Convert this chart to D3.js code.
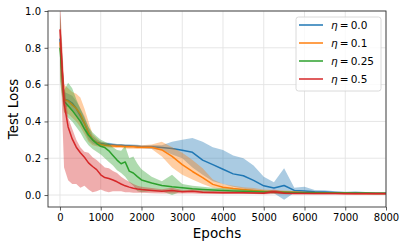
<!DOCTYPE html>
<html>
<head>
<meta charset="utf-8">
<script src="https://d3js.org/d3.v7.min.js"></script>
<style>
  body { margin: 0; background: #fff; }
  .chart text { font-family: "DejaVu Sans", sans-serif; fill: #000; }
</style>
</head>
<body>
<div class="chart"></div>
<script>
// epochs where the runs were logged
var epochs = [0, 100, 200, 300, 400, 500, 600, 700, 800, 900, 1000, 1100, 1200, 1300, 1400, 1500,
  1600, 1700, 1800, 1900, 2000, 2250, 2500, 2750, 3000, 3250, 3500, 3750, 4000, 4250, 4500, 4750,
  5000, 5250, 5500, 5750, 6000, 6250, 6500, 6750, 7000, 7250, 7500, 7750, 8000];

// eta = 0.0
var blueMean = [0.85, 0.52, 0.515, 0.50, 0.47, 0.43, 0.39, 0.335, 0.30, 0.285, 0.28, 0.277, 0.276, 0.273, 0.27, 0.27,
  0.268, 0.268, 0.267, 0.265, 0.263, 0.262, 0.258, 0.253, 0.243, 0.232, 0.19, 0.165, 0.14, 0.115, 0.105, 0.08,
  0.05, 0.038, 0.052, 0.025, 0.022, 0.018, 0.016, 0.014, 0.012, 0.012, 0.011, 0.01, 0.01];
var blueLo = [0.70, 0.48, 0.48, 0.46, 0.43, 0.39, 0.35, 0.30, 0.28, 0.27, 0.27, 0.269, 0.268, 0.265, 0.262, 0.262,
  0.26, 0.26, 0.259, 0.257, 0.255, 0.25, 0.245, 0.22, 0.20, 0.15, 0.11, 0.075, 0.06, 0.045, 0.035, 0.02,
  0.01, 0.01, -0.025, 0.012, 0.01, 0.008, 0.008, 0.006, 0.006, 0.006, 0.005, 0.005, 0.005];
var blueHi = [1.0, 0.56, 0.55, 0.54, 0.51, 0.47, 0.43, 0.37, 0.32, 0.30, 0.29, 0.285, 0.284, 0.281, 0.278, 0.278,
  0.276, 0.276, 0.275, 0.273, 0.271, 0.272, 0.27, 0.29, 0.30, 0.31, 0.29, 0.26, 0.245, 0.215, 0.20, 0.16,
  0.10, 0.07, 0.145, 0.04, 0.045, 0.028, 0.026, 0.02, 0.018, 0.02, 0.017, 0.015, 0.015];

// eta = 0.1
var orangeMean = [0.83, 0.52, 0.51, 0.49, 0.47, 0.44, 0.39, 0.34, 0.30, 0.285, 0.275, 0.27, 0.268, 0.267, 0.265, 0.265,
  0.263, 0.262, 0.262, 0.26, 0.26, 0.26, 0.245, 0.21, 0.165, 0.128, 0.095, 0.058, 0.042, 0.035, 0.03, 0.025,
  0.02, 0.018, 0.016, 0.015, 0.013, 0.012, 0.011, 0.01, 0.01, 0.009, 0.009, 0.008, 0.008];
var orangeLo = [0.65, 0.45, 0.44, 0.42, 0.40, 0.37, 0.33, 0.29, 0.27, 0.265, 0.26, 0.26, 0.258, 0.257, 0.255, 0.255,
  0.253, 0.252, 0.252, 0.25, 0.25, 0.25, 0.21, 0.15, 0.11, 0.085, 0.06, 0.04, 0.03, 0.025, 0.02, 0.015,
  0.012, 0.01, 0.01, 0.008, 0.007, 0.006, 0.006, 0.005, 0.005, 0.005, 0.005, 0.005, 0.005];
var orangeHi = [1.0, 0.60, 0.58, 0.56, 0.55, 0.53, 0.47, 0.40, 0.33, 0.31, 0.29, 0.285, 0.278, 0.277, 0.275, 0.275,
  0.273, 0.272, 0.272, 0.27, 0.27, 0.275, 0.29, 0.26, 0.23, 0.19, 0.145, 0.085, 0.06, 0.05, 0.042, 0.038,
  0.03, 0.028, 0.025, 0.022, 0.019, 0.018, 0.017, 0.016, 0.016, 0.015, 0.015, 0.014, 0.014];

// eta = 0.25
var greenMean = [0.80, 0.51, 0.485, 0.46, 0.43, 0.40, 0.36, 0.325, 0.30, 0.28, 0.265, 0.258, 0.24, 0.215, 0.19, 0.17,
  0.18, 0.13, 0.12, 0.10, 0.082, 0.065, 0.052, 0.045, 0.04, 0.034, 0.03, 0.027, 0.025, 0.022, 0.02, 0.018,
  0.016, 0.015, 0.014, 0.013, 0.012, 0.012, 0.011, 0.011, 0.01, 0.01, 0.01, 0.009, 0.009];
var greenLo = [0.62, 0.45, 0.42, 0.40, 0.37, 0.34, 0.30, 0.27, 0.25, 0.235, 0.22, 0.20, 0.18, 0.16, 0.135, 0.12,
  0.10, 0.07, 0.05, 0.02, 0.015, 0.02, 0.02, 0.0, 0.02, 0.02, 0.015, 0.014, 0.013, 0.012, 0.01, 0.009,
  0.008, 0.008, 0.007, 0.007, 0.006, 0.006, 0.006, 0.006, 0.005, 0.005, 0.005, 0.005, 0.005];
var greenHi = [0.98, 0.57, 0.61, 0.58, 0.52, 0.47, 0.42, 0.37, 0.34, 0.32, 0.30, 0.29, 0.28, 0.26, 0.245, 0.24,
  0.265, 0.20, 0.21, 0.17, 0.14, 0.10, 0.075, 0.11, 0.06, 0.05, 0.045, 0.04, 0.037, 0.033, 0.03, 0.028,
  0.025, 0.023, 0.022, 0.02, 0.019, 0.018, 0.017, 0.016, 0.016, 0.015, 0.015, 0.014, 0.014];

// eta = 0.5
var redMean = [0.90, 0.50, 0.37, 0.305, 0.26, 0.23, 0.205, 0.175, 0.155, 0.138, 0.11, 0.095, 0.09, 0.082, 0.072, 0.06,
  0.05, 0.043, 0.037, 0.033, 0.03, 0.025, 0.02, 0.025, 0.018, 0.02, 0.015, 0.014, 0.013, 0.012, 0.012, 0.011,
  0.01, 0.018, 0.01, 0.009, 0.009, 0.008, 0.008, 0.008, 0.007, 0.007, 0.007, 0.007, 0.007];
var redLo = [0.78, 0.15, 0.08, 0.06, 0.06, 0.04, 0.05, 0.03, 0.015, 0.02, 0.03, 0.02, 0.015, 0.02, 0.02, 0.02,
  0.015, 0.015, 0.012, 0.012, 0.012, 0.01, 0.008, 0.008, 0.008, 0.008, 0.006, 0.006, 0.006, 0.005, 0.005, 0.005,
  0.004, 0.006, 0.004, 0.004, 0.004, 0.003, 0.003, 0.003, 0.003, 0.003, 0.003, 0.003, 0.003];
var redHi = [1.05, 0.62, 0.42, 0.36, 0.30, 0.26, 0.235, 0.23, 0.205, 0.19, 0.17, 0.15, 0.145, 0.13, 0.12, 0.10,
  0.085, 0.072, 0.06, 0.05, 0.045, 0.038, 0.032, 0.04, 0.028, 0.03, 0.024, 0.022, 0.02, 0.019, 0.018, 0.017,
  0.016, 0.03, 0.016, 0.014, 0.014, 0.013, 0.013, 0.013, 0.012, 0.012, 0.012, 0.012, 0.012];

var etaLabels = ['0.0', '0.1', '0.25', '0.5'];
var xTicks = [0, 1000, 2000, 3000, 4000, 5000, 6000, 7000, 8000];
var yTicks = [0.0, 0.2, 0.4, 0.6, 0.8, 1.0];

var series = [
  { name: etaLabels[0], color: '#1f77b4', mean: blueMean, lo: blueLo, hi: blueHi },
  { name: etaLabels[1], color: '#ff7f0e', mean: orangeMean, lo: orangeLo, hi: orangeHi },
  { name: etaLabels[2], color: '#2ca02c', mean: greenMean, lo: greenLo, hi: greenHi },
  { name: etaLabels[3], color: '#d62728', mean: redMean, lo: redLo, hi: redHi }
];

// set up chart size
var svgWidth = 407;
var svgHeight = 250;

var margin = { top: 11, bottom: 43, right: 21, left: 48 };
var width = svgWidth - margin.left - margin.right;
var height = svgHeight - margin.top - margin.bottom;

var svg = d3.select('.chart')
  .append('svg')
  .attr('width', svgWidth)
  .attr('height', svgHeight);

var chart = svg.append('g')
  .attr('transform', `translate(${margin.left}, ${margin.top})`);

// scales
var x = d3.scaleLinear().domain([-294, 8000]).range([0, width]);
var y = d3.scaleLinear().domain([-0.065, 1.0]).range([height, 0]);

// grid
chart.append('g')
  .selectAll('line')
  .data(xTicks)
  .enter()
  .append('line')
  .attr('x1', function(d) { return x(d); })
  .attr('x2', function(d) { return x(d); })
  .attr('y1', 0)
  .attr('y2', height)
  .attr('stroke', '#e3e3e3')
  .attr('stroke-width', 0.9);

chart.append('g')
  .selectAll('line')
  .data(yTicks)
  .enter()
  .append('line')
  .attr('x1', 0)
  .attr('x2', width)
  .attr('y1', function(d) { return y(d); })
  .attr('y2', function(d) { return y(d); })
  .attr('stroke', '#e3e3e3')
  .attr('stroke-width', 0.9);

// clip the bands to the plot area
svg.append('defs')
  .append('clipPath')
  .attr('id', 'plot-clip')
  .append('rect')
  .attr('width', width)
  .attr('height', height);

var plot = chart.append('g').attr('clip-path', 'url(#plot-clip)');

var band = d3.area()
  .x(function(d) { return x(d.e); })
  .y0(function(d) { return y(d.lo); })
  .y1(function(d) { return y(d.hi); });

var line = d3.line()
  .x(function(d) { return x(d.e); })
  .y(function(d) { return y(d.v); });

series.forEach(function(s) {
  var pts = epochs.map(function(e, i) {
    return { e: e, v: s.mean[i], lo: s.lo[i], hi: s.hi[i] };
  });

  plot.append('path')
    .datum(pts)
    .attr('d', band)
    .attr('fill', s.color)
    .attr('fill-opacity', 0.38)
    .attr('stroke', 'none');

  plot.append('path')
    .datum(pts)
    .attr('d', line)
    .attr('fill', 'none')
    .attr('stroke', s.color)
    .attr('stroke-width', 1.5)
    .attr('stroke-linejoin', 'round');
});

// axes
var bottomAxis = d3.axisBottom(x).tickValues(xTicks).tickSize(3.5).tickPadding(3.5).tickFormat(d3.format('d'));
var leftAxis = d3.axisLeft(y).tickValues(yTicks).tickSize(3.5).tickPadding(3.5).tickFormat(d3.format('.1f'));

var xAxisG = chart.append('g')
  .attr('transform', `translate(0, ${height})`)
  .call(bottomAxis);

var yAxisG = chart.append('g').call(leftAxis);

[xAxisG, yAxisG].forEach(function(g) {
  g.select('.domain').remove();
  g.selectAll('.tick line').attr('stroke', '#333').attr('stroke-width', 0.8);
  g.selectAll('.tick text')
    .attr('font-family', 'DejaVu Sans, sans-serif')
    .attr('font-size', 10)
    .attr('fill', '#000');
});

// frame
chart.append('rect')
  .attr('width', width)
  .attr('height', height)
  .attr('fill', 'none')
  .attr('stroke', '#333')
  .attr('stroke-width', 0.9);

// axis labels
chart.append('text')
  .attr('transform', 'rotate(-90)')
  .attr('x', 0 - height / 2)
  .attr('y', 0 - margin.left + 18)
  .style('text-anchor', 'middle')
  .style('font-size', '13.5px')
  .text('Test Loss');

chart.append('text')
  .attr('x', width / 2)
  .attr('y', height + 31)
  .style('text-anchor', 'middle')
  .style('font-size', '13.5px')
  .text('Epochs');

// legend
var legend = chart.append('g')
  .attr('transform', `translate(${width - 90}, 6)`);

legend.append('rect')
  .attr('width', 85)
  .attr('height', 74)
  .attr('rx', 2.5)
  .attr('fill', '#fff')
  .attr('fill-opacity', 0.8)
  .attr('stroke', '#d0d0d0')
  .attr('stroke-width', 0.8);

var entry = legend.selectAll('.entry')
  .data(series)
  .enter()
  .append('g')
  .attr('class', 'entry')
  .attr('transform', function(d, i) { return `translate(0, ${8 + i * 18})`; });

entry.append('line')
  .attr('x1', 3)
  .attr('x2', 27)
  .attr('y1', 0)
  .attr('y2', 0)
  .attr('stroke', function(d) { return d.color; })
  .attr('stroke-width', 1.5);

var label = entry.append('text')
  .attr('x', 35)
  .attr('y', 3.7)
  .style('font-size', '10.5px');

label.append('tspan')
  .style('font-style', 'italic')
  .text('η');

label.append('tspan')
  .text(function(d) { return '\u2009=\u2009' + d.name; });
</script>
</body>
</html>
